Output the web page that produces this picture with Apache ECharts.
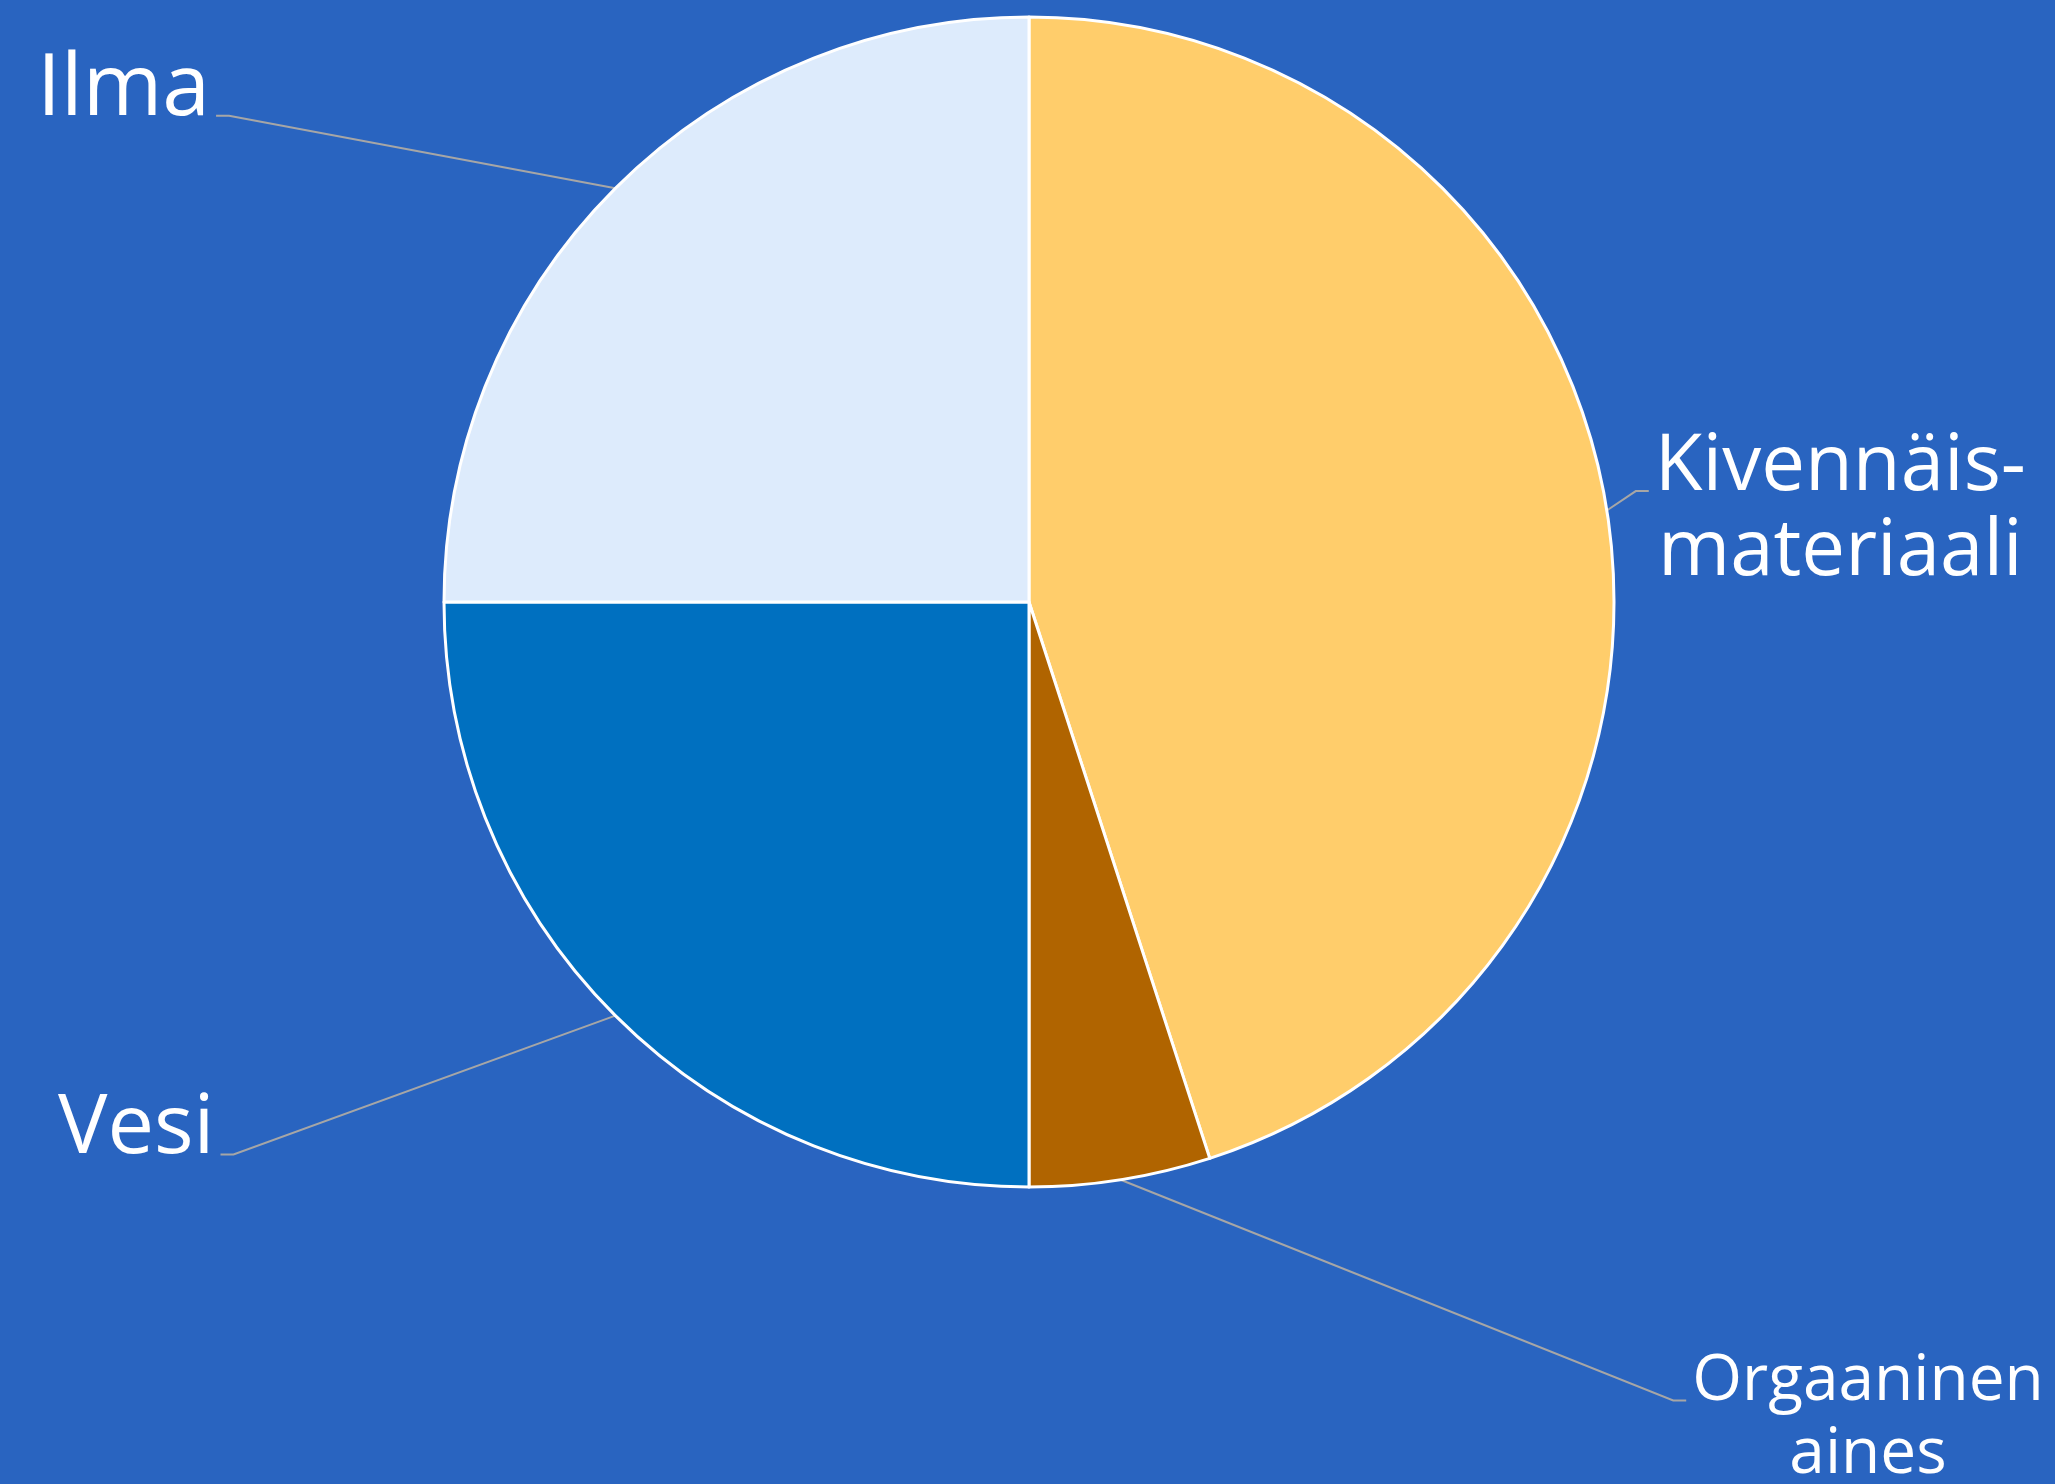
<!DOCTYPE html>
<html>
<head>
<meta charset="utf-8">
<script src="https://cdn.jsdelivr.net/npm/echarts@6/dist/echarts.min.js"></script>
<style>
html,body{margin:0;padding:0;background:#2964C0;}
#chart{width:2055px;height:1484px;}
</style>
</head>
<body>
<div id="chart"></div>
<script>
// Data
const categories = ['Kivennäis-\nmateriaali', 'Orgaaninen\naines', 'Vesi', 'Ilma'];
const values = [45, 5, 25, 25];

// Styles
const sliceColors = ['#FFCD6B', '#B06400', '#0070C0', '#DDEBFC'];
const labelStyles = [
  { fontSize: 78, lineHeight: 85, lines: 2, length: 2, length2: 40 },
  { fontSize: 64, lineHeight: 73, lines: 2, length: 241, length2: 528 },
  { fontSize: 83, lineHeight: 94, lines: 1, length: 161, length2: 281 },
  { fontSize: 86, lineHeight: 97, lines: 1, length: 139, length2: 301 }
];

const chart = echarts.init(document.getElementById('chart'));
const seriesData = categories.map(function (name, i) {
  const st = labelStyles[i];
  return {
    name: name,
    value: values[i],
    itemStyle: { color: sliceColors[i] },
    label: { fontSize: st.fontSize, lineHeight: st.lineHeight },
    labelLine: { length: st.length, length2: st.length2 }
  };
});

chart.setOption({
  backgroundColor: '#2964C0',
  animation: false,
  series: [{
    type: 'pie',
    center: [1029, 602],
    radius: [0, 585],
    startAngle: 90,
    clockwise: true,
    avoidLabelOverlap: false,
    data: seriesData,
    itemStyle: { borderColor: '#ffffff', borderWidth: 3 },
    label: {
      show: true,
      position: 'outside',
      color: '#ffffff',
      fontFamily: 'Open Sans',
      fontWeight: 'normal',
      distanceToLabelLine: 6,
      formatter: '{b}'
    },
    labelLine: {
      show: true,
      lineStyle: { color: '#A6A6A6', width: 2 }
    },
    emphasis: { disabled: true },
    labelLayout: function (p) {
      const pts = p.labelLinePoints;
      if (!pts) return {};
      const r = p.labelRect;
      const st = labelStyles[p.dataIndex];
      const right = pts[2][0] > pts[0][0];
      const lh = r.height / st.lines;
      const yA = r.y + lh / 2 + st.fontSize * 0.3;
      const endX = pts[2][0];
      const out = {
        labelLinePoints: [pts[0], [endX + (right ? -13 : 13), yA], [endX, yA]]
      };
      if (right && st.lines > 1) {
        out.x = r.x + r.width / 2;
        out.align = 'center';
      }
      return out;
    }
  }]
});
</script>
</body>
</html>
